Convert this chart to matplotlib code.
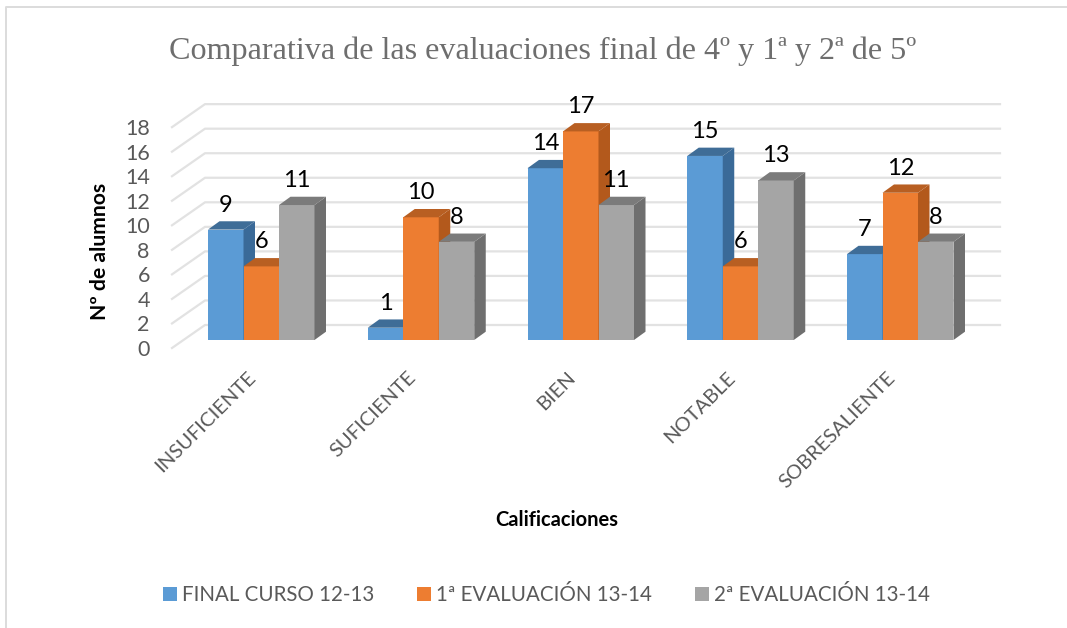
import matplotlib
matplotlib.use("Agg")
import matplotlib.pyplot as plt
from matplotlib.lines import Line2D
from matplotlib.patches import Polygon, Rectangle
from matplotlib.transforms import ScaledTranslation

# === Data ===
categories = ["INSUFICIENTE", "SUFICIENTE", "BIEN", "NOTABLE", "SOBRESALIENTE"]
series_names = ["FINAL CURSO 12-13", "1ª EVALUACIÓN 13-14", "2ª EVALUACIÓN 13-14"]
final_12_13 = [9, 1, 14, 15, 7]
eval1_13_14 = [6, 10, 17, 6, 12]
eval2_13_14 = [11, 8, 11, 13, 8]
y_ticks = [0, 2, 4, 6, 8, 10, 12, 14, 16, 18]

# === Style ===
W, H = 1067, 628
PITCH = 159.75   # px per category
UNIT = 12.27     # px per value
X0_PX = 261.25   # px of first category
BAR_W = 35.5 / PITCH
BAR_DX = 11.5 / PITCH
BAR_DY = 8.3 / UNIT
BAR_FLOOR = 8 / UNIT
WALL_DX = 33 / PITCH
WALL_DY = 23 / UNIT
FACES = [("#5b9bd5", "#3f6d97", "#3a6a98"),
         ("#ed7d31", "#b85f22", "#b3591c"),
         ("#a5a5a5", "#7b7b7b", "#6f6f6f")]

plt.rcParams["font.family"] = ["Lato", "DejaVu Sans"]

fig = plt.figure(figsize=(W / 100, H / 100), dpi=100)
left, right = 172, 1000
top, bottom = 90, 348
ax = fig.add_axes([left / W, 1 - bottom / H, (right - left) / W, (bottom - top) / H])
ax.set_xlim((left - X0_PX) / PITCH, (right - X0_PX) / PITCH)
ax.set_ylim(0, (bottom - top) / UNIT)
ax.patch.set_alpha(0)
for s in ax.spines.values():
    s.set_visible(False)

# chart frame, only top and left show in the picture
fig.add_artist(Line2D([6 / W, 6 / W, 1], [0, 1 - 7 / H, 1 - 7 / H], color="#dcdcdc", lw=1.4))

# gridlines: floor-side segment plus the back wall
x_front = ax.get_xlim()[0]
x_end = ax.get_xlim()[1]
for v in y_ticks:
    ax.plot([x_front, x_front + WALL_DX, x_end], [v, v + WALL_DY, v + WALL_DY],
            color="#e2e2e2", lw=1.6, zorder=1, clip_on=False)

# bars with side and top faces
for s, vals in enumerate([final_12_13, eval1_13_14, eval2_13_14]):
    front, top_c, side = FACES[s]
    for i, v in enumerate(vals):
        x = i - 1.5 * BAR_W + s * BAR_W
        y = BAR_FLOOR + v
        z = 3 + s
        ax.bar(x, v, BAR_W, bottom=BAR_FLOOR, align="edge", color=front, lw=0, zorder=z)
        ax.add_patch(Polygon([(x + BAR_W, BAR_FLOOR), (x + BAR_W + BAR_DX, BAR_FLOOR + BAR_DY),
                              (x + BAR_W + BAR_DX, y + BAR_DY), (x + BAR_W, y)],
                             color=side, lw=0, zorder=z))
        ax.add_patch(Polygon([(x, y), (x + BAR_DX, y + BAR_DY),
                              (x + BAR_W + BAR_DX, y + BAR_DY), (x + BAR_W, y)],
                             color=top_c, lw=0, zorder=z))
        ax.annotate(str(v), (x + BAR_W / 2, y), xytext=(0, 24.5), textcoords="offset pixels",
                    ha="center", va="center", fontsize=17, color="black", zorder=10,
                    annotation_clip=False)

ax.set_yticks(y_ticks)
ax.set_yticklabels([str(v) for v in y_ticks], fontsize=15.5, color="#595959")
ax.set_xticks(range(len(categories)))
ax.set_xticklabels(categories, rotation=45, ha="right", rotation_mode="anchor",
                   fontsize=14.5, color="#595959")
ax.tick_params(axis="y", length=0, pad=16)
ax.tick_params(axis="x", length=0, pad=15)
# labels sit left of the bar groups
shift = ScaledTranslation(-14 / 100, 0, fig.dpi_scale_trans)
for lab in ax.get_xticklabels():
    lab.set_transform(lab.get_transform() + shift)

fig.text(543 / W, 1 - 51 / H, "Comparativa de las evaluaciones final de 4º y 1ª y 2ª de 5º",
         family=["Liberation Serif"], fontsize=23.1, color="#6e6e6e", ha="center", va="center")
fig.text(100 / W, 1 - 251 / H, "Nº de alumnos", rotation=90, fontsize=15.2, fontweight="bold",
         ha="center", va="center")
fig.text(557 / W, 1 - 520 / H, "Calificaciones", fontsize=14.5, fontweight="bold",
         ha="center", va="center")

handles = [Rectangle((0, 0), 1, 1, color=f[0], lw=0) for f in FACES]
fig.legend(handles, series_names, loc="center", bbox_to_anchor=(546.5 / W, 1 - 595 / H), ncols=3,
           frameon=False, fontsize=14.8, labelcolor="#595959", handlelength=0.68, handleheight=0.68,
           handletextpad=0.25, columnspacing=2.1)

plt.savefig("out.png", dpi=100)
